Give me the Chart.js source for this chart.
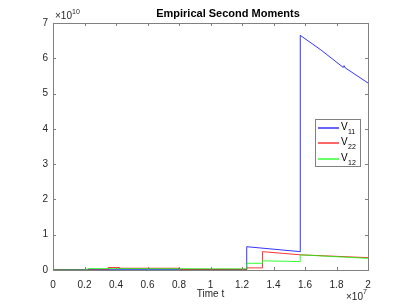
<!DOCTYPE html>
<html>
<head>
<meta charset="utf-8">
<script src="https://cdn.jsdelivr.net/npm/chart.js@4/dist/chart.umd.min.js"></script>
<style>
  html, body { margin: 0; padding: 0; background: #fff; }
  #wrap { width: 407px; height: 305px; }
</style>
</head>
<body>
<div id="wrap"><canvas id="chart" width="407" height="305"></canvas></div>
<script>
// time in units of 1e7, moments in units of 1e10
const xTicks = [0, 0.2, 0.4, 0.6, 0.8, 1, 1.2, 1.4, 1.6, 1.8, 2];
const yTicks = [0, 1, 2, 3, 4, 5, 6, 7];

const v11T = [0, 1.23, 1.23, 1.57, 1.57, 1.7, 1.843, 1.848, 1.855, 2.0];
const v11Y = [0.01, 0.01, 0.66, 0.52, 6.65, 6.24, 5.74, 5.79, 5.73, 5.30];

const v22T = [0, 0.35, 0.35, 0.42, 0.42, 0.8, 0.8, 1.23, 1.23, 1.33, 1.33, 1.57, 2.0];
const v22Y = [0, 0, 0.07, 0.07, 0.05, 0.05, 0.02, 0.02, 0.06, 0.06, 0.52, 0.43, 0.35];

const v12T = [0, 0.22, 0.22, 1.23, 1.23, 1.33, 1.33, 1.57, 1.57, 2.0];
const v12Y = [0, 0, 0.04, 0.03, 0.19, 0.19, 0.26, 0.24, 0.43, 0.33];

const names = ["11", "22", "12"];
const colors = ["#0000ff", "#ff0000", "#00ff00"];

function pts(t, y) {
  return t.map((v, i) => ({ x: v, y: y[i] }));
}

const FONT = "'Liberation Sans', Arial, sans-serif";
const AX = "#808080";
const TXT = "#262626";

const decor = {
  id: "decor",
  afterDraw(chart) {
    const ctx = chart.ctx;
    const a = chart.chartArea;
    const xs = chart.scales.x, ys = chart.scales.y;
    ctx.save();
    ctx.strokeStyle = AX;
    ctx.lineWidth = 1;
    ctx.strokeRect(Math.round(a.left) + 0.5, Math.round(a.top) + 0.5,
      Math.round(a.right - a.left), Math.round(a.bottom - a.top));
    ctx.beginPath();
    xTicks.forEach((v) => {
      const px = Math.round(xs.getPixelForValue(v)) + 0.5;
      ctx.moveTo(px, a.bottom); ctx.lineTo(px, a.bottom - 3);
      ctx.moveTo(px, a.top); ctx.lineTo(px, a.top + 3);
    });
    yTicks.forEach((v) => {
      const py = Math.round(ys.getPixelForValue(v)) + 0.5;
      ctx.moveTo(a.left, py); ctx.lineTo(a.left + 3, py);
      ctx.moveTo(a.right, py); ctx.lineTo(a.right - 3, py);
    });
    ctx.stroke();

    // title
    ctx.fillStyle = "#000";
    ctx.font = "bold 11px " + FONT;
    ctx.textAlign = "center";
    ctx.textBaseline = "middle";
    ctx.fillText("Empirical Second Moments", 228, 14);

    // axis label and multipliers
    ctx.fillStyle = TXT;
    ctx.font = "10px " + FONT;
    ctx.fillText("Time t", (a.left + a.right) / 2, 294);
    ctx.textAlign = "left";
    ctx.fillText("\u00d710", 55, 16);
    ctx.font = "7px " + FONT;
    ctx.fillText("10", 72, 12);
    ctx.font = "10px " + FONT;
    ctx.fillText("\u00d710", 346, 297);
    ctx.font = "7px " + FONT;
    ctx.fillText("7", 363, 292);

    // legend
    const lx = 315.5, ly = 119.5, lw = 45, lh = 47;
    ctx.fillStyle = "#fff";
    ctx.fillRect(lx, ly, lw, lh);
    ctx.strokeStyle = AX;
    ctx.strokeRect(lx, ly, lw, lh);
    names.forEach((nm, i) => {
      const y = Math.round(128 + i * 15.3);
      ctx.strokeStyle = colors[i];
      ctx.lineWidth = 1.2;
      ctx.beginPath();
      ctx.moveTo(318, y);
      ctx.lineTo(339, y);
      ctx.stroke();
      ctx.fillStyle = "#000";
      ctx.font = "10px " + FONT;
      ctx.textAlign = "left";
      ctx.fillText("V", 341, y - 1);
      ctx.font = "7px " + FONT;
      ctx.fillText(nm, 348, y + 4);
    });
    ctx.restore();
  }
};

new Chart(document.getElementById("chart"), {
  type: "scatter",
  data: {
    datasets: [
      { label: "V11", data: pts(v11T, v11Y), borderColor: colors[0], order: 3 },
      { label: "V22", data: pts(v22T, v22Y), borderColor: colors[1], order: 2 },
      { label: "V12", data: pts(v12T, v12Y), borderColor: colors[2], order: 1 }
    ].map((d) => Object.assign(d, { showLine: true, pointRadius: 0, borderWidth: 0.8, tension: 0, backgroundColor: d.borderColor }))
  },
  options: {
    responsive: false,
    animation: false,
    devicePixelRatio: 1,
    layout: { padding: { top: 23, right: 39, left: 0, bottom: 0 } },
    plugins: { legend: { display: false }, tooltip: { enabled: false }, title: { display: false } },
    scales: {
      x: {
        type: "linear", min: 0, max: 2,
        afterFit: (s) => { s.height = 35; },
        afterBuildTicks: (s) => { s.ticks = xTicks.map((v) => ({ value: v })); },
        grid: { display: false, drawTicks: false },
        border: { display: false },
        ticks: { padding: 9, color: TXT, font: { family: FONT, size: 10 }, maxRotation: 0,
          callback: (v) => String(Number(v.toFixed(1))) }
      },
      y: {
        type: "linear", min: 0, max: 7,
        afterFit: (s) => { s.width = 53; },
        afterBuildTicks: (s) => { s.ticks = yTicks.map((v) => ({ value: v })); },
        grid: { display: false, drawTicks: false },
        border: { display: false },
        ticks: { padding: 5, color: TXT, font: { family: FONT, size: 10 } }
      }
    }
  },
  plugins: [decor]
});
</script>
</body>
</html>
